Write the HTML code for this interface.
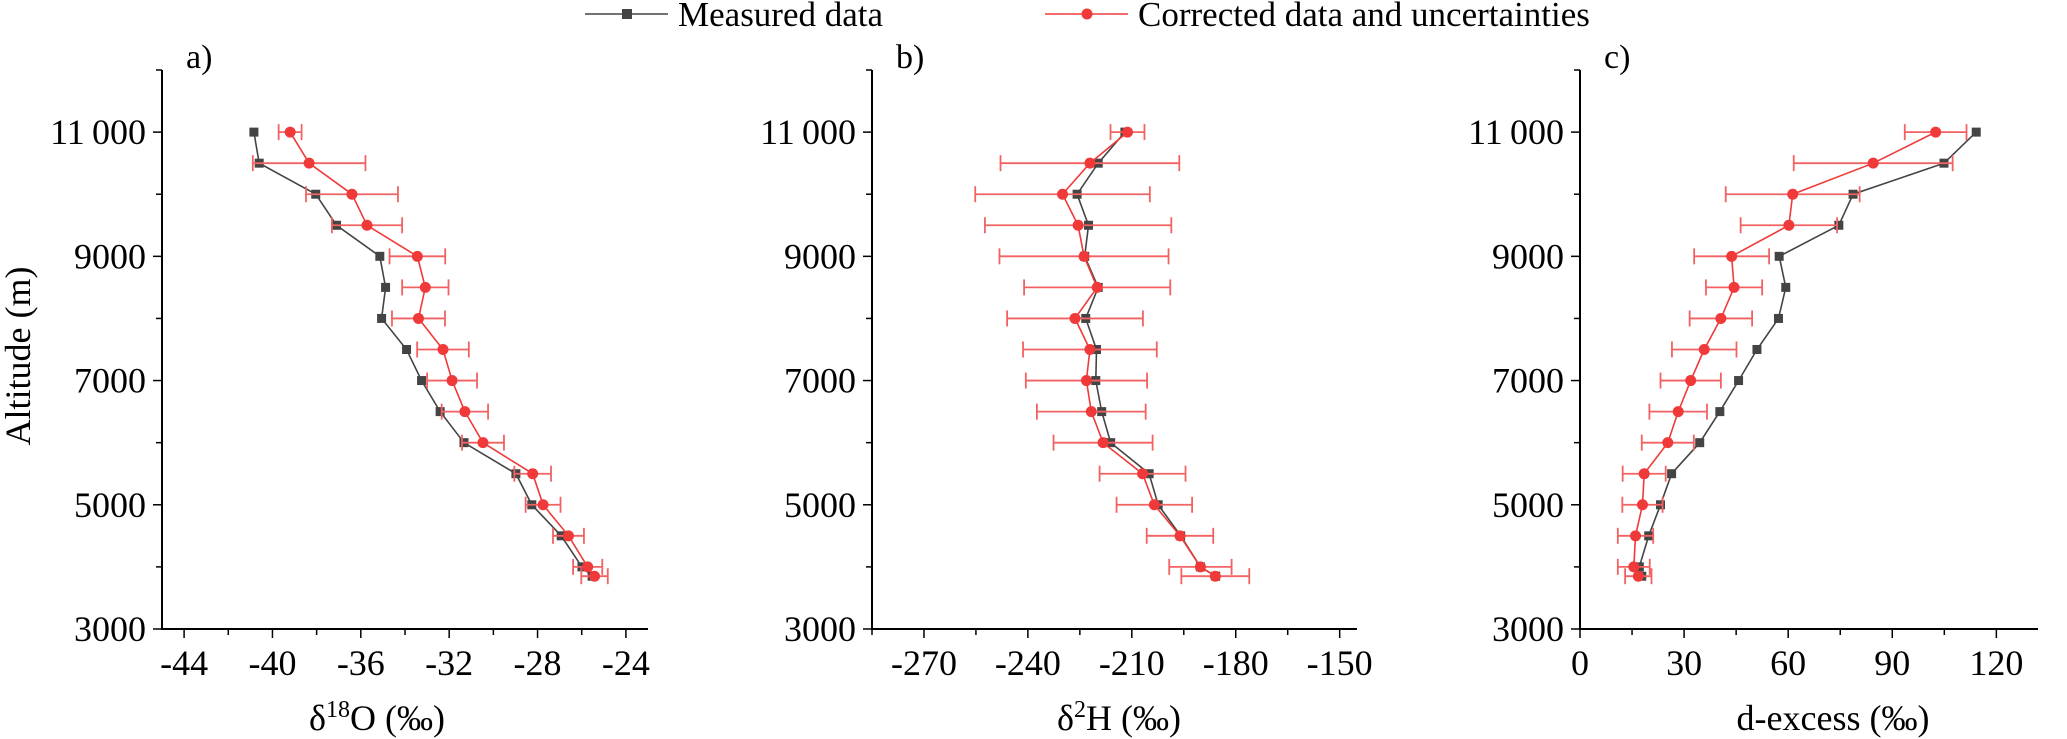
<!DOCTYPE html>
<html><head><meta charset="utf-8"><style>
html,body{margin:0;padding:0;background:#fff;}
svg{display:block;}
svg text{font-family:"Liberation Serif","DejaVu Serif","Times New Roman",serif;}
</style></head><body>
<svg id="chart" width="2067" height="739" viewBox="0 0 2067 739" xmlns="http://www.w3.org/2000/svg" font-family="Liberation Serif, DejaVu Serif, serif">
<g>
  <g>
    <line x1="585" y1="14" x2="668" y2="14" stroke="#444" stroke-width="1.5"/>
    <rect x="622" y="9" width="10" height="10" fill="#444"/>
    <text x="678" y="26" font-size="35">Measured data</text>
  </g>
  <g>
    <line x1="1045" y1="14" x2="1128" y2="14" stroke="#f03a3a" stroke-width="1.5"/>
    <line x1="1065" y1="14" x2="1109" y2="14" stroke="#f06060" stroke-width="1.5"/>
    <circle cx="1087" cy="14" r="5.5" fill="#f03a3a"/>
    <text x="1138" y="26" font-size="35">Corrected data and uncertainties</text>
  </g>
</g>
<text x="-356" y="30" transform="rotate(-90)" text-anchor="middle" font-size="36">Altitude (m)</text>
</svg>
<script>
const altitudes = [11000,10500,10000,9500,9000,8500,8000,7500,7000,6500,6000,5500,5000,4500,4000,3850];
const yTicks = [3000,5000,7000,9000,11000];
const yTickLabels = ["3000","5000","7000","9000","11\u2009000"];

const d18oMeasured = [-40.84,-40.6,-38.04,-37.1,-35.14,-34.88,-35.06,-33.93,-33.25,-32.41,-31.33,-28.98,-28.26,-26.93,-25.99,-25.53];
const d18oCorrected = [-39.2,-38.34,-36.4,-35.72,-33.44,-33.08,-33.39,-32.28,-31.87,-31.29,-30.47,-28.22,-27.75,-26.6,-25.73,-25.42];
const d18oError = [0.52,2.55,2.08,1.59,1.26,1.05,1.2,1.17,1.13,1.05,0.95,0.83,0.79,0.7,0.66,0.6];
const d18oTicks = [-44,-40,-36,-32,-28,-24];

const d2hMeasured = [-212.0,-219.7,-225.8,-222.5,-223.6,-219.7,-223.3,-220.2,-220.4,-218.7,-216.1,-205.0,-202.4,-195.9,-190.2,-185.8];
const d2hCorrected = [-211.25,-222.1,-230.0,-225.5,-223.8,-220.0,-226.4,-222.1,-223.1,-221.7,-218.3,-206.9,-203.5,-196.1,-190.2,-185.9];
const d2hError = [4.9,25.8,25.2,26.9,24.4,21.1,19.6,19.3,17.5,15.7,14.3,12.4,10.9,9.6,9.0,9.8];
const d2hTicks = [-270,-240,-210,-180,-150];

const dexMeasured = [114.2,104.9,78.7,74.6,57.4,59.3,57.2,51.0,45.7,40.3,34.5,26.4,23.2,19.8,17.1,17.8];
const dexCorrected = [102.5,84.5,61.3,60.2,43.7,44.4,40.6,35.8,31.9,28.3,25.3,18.5,18.0,16.0,15.5,16.8];
const dexError = [8.9,22.9,19.3,13.9,10.8,8.1,9.0,9.3,8.7,8.3,7.5,6.2,5.8,5.1,4.6,3.8];
const dexTicks = [0,30,60,90,120];

const NS = "http://www.w3.org/2000/svg";
const svg = document.getElementById("chart");
const Y0 = 629, Y1 = 70;
function yScale(v){ return Y0 + (v-3000)/(12000-3000)*(Y1-Y0); }
function mk(tag, attrs, parent){
  const e = document.createElementNS(NS, tag);
  for (const k in attrs) e.setAttribute(k, attrs[k]);
  (parent||svg).appendChild(e);
  return e;
}

const panels = [
  {key:"d18o", letter:"a)", dmin:-45, dmax:-23, r0:162, r1:648, ticks:d18oTicks, minorStep:2, meas:d18oMeasured, corr:d18oCorrected, err:d18oError, title:"δ<tspan baseline-shift=\"super\" font-size=\"24\">18</tspan>O (‰)", tcx:377},
  {key:"d2h", letter:"b)", dmin:-285, dmax:-145, r0:872, r1:1357, ticks:d2hTicks, minorStep:15, meas:d2hMeasured, corr:d2hCorrected, err:d2hError, title:"δ<tspan baseline-shift=\"super\" font-size=\"24\">2</tspan>H (‰)", tcx:1119},
  {key:"dexcess", letter:"c)", dmin:0, dmax:132, r0:1580, r1:2038, ticks:dexTicks, minorStep:15, meas:dexMeasured, corr:dexCorrected, err:dexError, title:"d-excess (‰)", tcx:1833}
];

panels.forEach(p => {
  const xs = v => p.r0 + (v-p.dmin)/(p.dmax-p.dmin)*(p.r1-p.r0);
  const g = mk("g", {});
  
  

  const lbl = mk("text", {x:p.r0+24, y:68, "font-size":34}, g);
  lbl.textContent = p.letter;
  
  

  const yAxis = mk("line", {x1:p.r0, y1:Y1, x2:p.r0, y2:Y0+1, stroke:"#000", "stroke-width":2}, g);
  
  
  const xAxis = mk("line", {x1:p.r0-1, y1:Y0, x2:p.r1, y2:Y0, stroke:"#000", "stroke-width":2}, g);
  
  

  for (let v=4000; v<=12000; v+=2000){
    mk("line", {x1:p.r0-6, y1:yScale(v), x2:p.r0, y2:yScale(v), stroke:"#000", "stroke-width":1.5}, g);
  }
  yTicks.forEach((v,i) => {
    mk("line", {x1:p.r0-9, y1:yScale(v), x2:p.r0, y2:yScale(v), stroke:"#000", "stroke-width":1.5}, g);
    const t = mk("text", {x:p.r0-16, y:yScale(v)+12, "text-anchor":"end", "font-size":36}, g);
    t.textContent = yTickLabels[i];
    
    
  });

  const start = Math.ceil(p.dmin/p.minorStep)*p.minorStep;
  for (let v=start; v<=p.dmax+1e-9; v+=p.minorStep){
    const isMajor = p.ticks.some(t=>Math.abs(t-v)<1e-9);
    mk("line", {x1:xs(v), y1:Y0, x2:xs(v), y2:Y0+(isMajor?9:6), stroke:"#000", "stroke-width":1.5}, g);
  }
  p.ticks.forEach(v => {
    const t = mk("text", {x:xs(v), y:675, "text-anchor":"middle", "font-size":36}, g);
    t.textContent = String(v);
    
    
  });
  const tt = mk("text", {x:p.tcx, y:730, "text-anchor":"middle", "font-size":36}, g);
  tt.innerHTML = p.title;
  
  

  const mPts = p.meas.map((v,i)=>xs(v).toFixed(1)+","+yScale(altitudes[i]).toFixed(1)).join(" ");
  const ml = mk("polyline", {points:mPts, fill:"none", stroke:"#444", "stroke-width":1.6}, g);
  
  
  p.meas.forEach((v,i) => {
    const r = mk("rect", {x:xs(v)-4.5, y:yScale(altitudes[i])-4.5, width:9, height:9, fill:"#444"}, g);
    
    
  });

  p.corr.forEach((v,i) => {
    const y = yScale(altitudes[i]);
    const xl = xs(v-p.err[i]), xr = xs(v+p.err[i]);
    const eb = mk("g", {stroke:"#f26262", "stroke-width":1.8}, g);
    
    
    mk("line", {x1:xl, y1:y, x2:xr, y2:y}, eb);
    mk("line", {x1:xl, y1:y-8, x2:xl, y2:y+8}, eb);
    mk("line", {x1:xr, y1:y-8, x2:xr, y2:y+8}, eb);
  });

  const cPts = p.corr.map((v,i)=>xs(v).toFixed(1)+","+yScale(altitudes[i]).toFixed(1)).join(" ");
  const cl = mk("polyline", {points:cPts, fill:"none", stroke:"#f03a3a", "stroke-width":1.6}, g);
  
  
  p.corr.forEach((v,i) => {
    const c = mk("circle", {cx:xs(v), cy:yScale(altitudes[i]), r:5.5, fill:"#f03a3a"}, g);
    
    
  });
});
</script>
</body></html>
